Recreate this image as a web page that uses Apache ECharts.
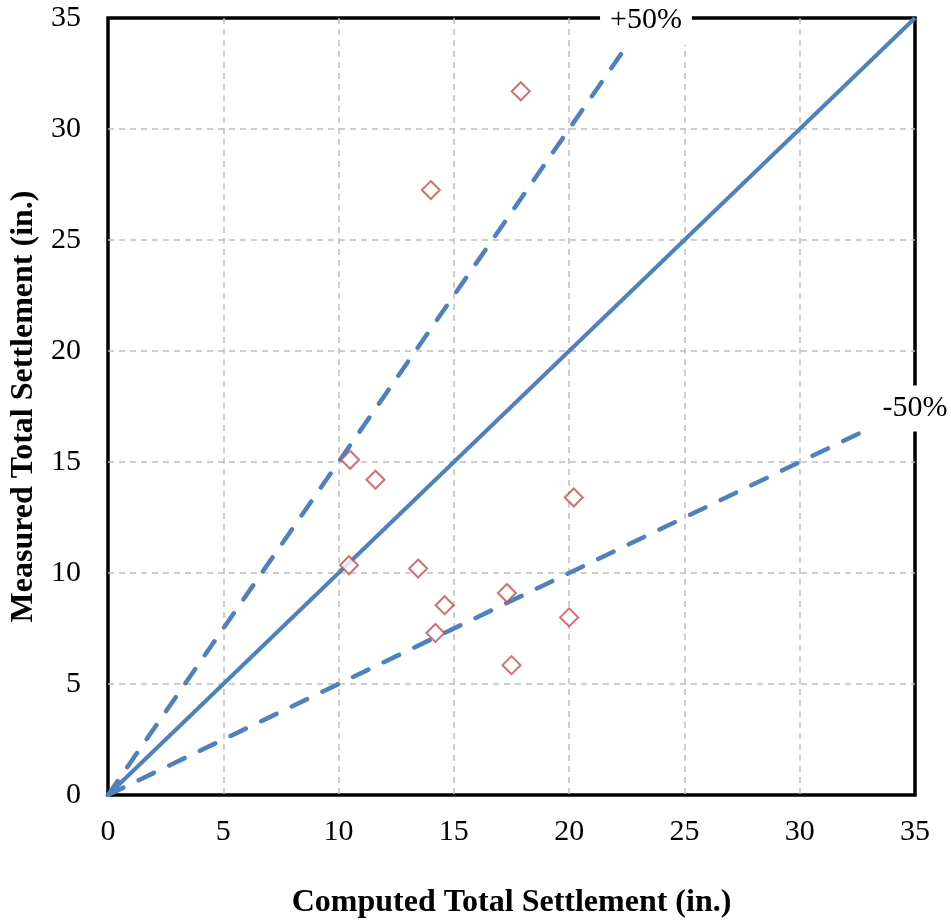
<!DOCTYPE html>
<html><head><meta charset="utf-8">
<script src="https://cdn.jsdelivr.net/npm/echarts@6/dist/echarts.min.js"></script>
<style>html,body{margin:0;padding:0;background:#fff}#c{width:951px;height:924px}</style>
</head><body><div id="c"></div>
<script>
// Data
const computed = [17.9, 14.0, 10.5, 11.6, 10.45, 13.45, 14.6, 14.2, 17.3, 17.5, 20.2, 20.0];
const measured = [31.7, 27.25, 15.1, 14.2, 10.35, 10.2, 8.55, 7.3, 9.1, 5.85, 13.4, 8.0];
const equalityLine = [[0, 0], [35, 35]];
const plus50Line = [[0, 0], [23.333, 35]];
const minus50Line = [[0, 0], [35, 17.5]];
const plus50Anchor = [23.333, 35];
const minus50Anchor = [35, 17.5];
const plus50Text = '+50%';
const minus50Text = '-50%';
const axisMin = 0, axisMax = 35, axisStep = 5;
const xTitle = 'Computed Total Settlement (in.)';
const yTitle = 'Measured Total Settlement (in.)';

const font = '"Liberation Serif","Times New Roman",serif';
const blue = '#4f81bd';
const chart = echarts.init(document.getElementById('c'));
const axisCommon = {
  type: 'value', min: axisMin, max: axisMax, interval: axisStep,
  nameLocation: 'middle',
  nameTextStyle: { fontFamily: font, fontWeight: 'bold', fontSize: 32, color: '#000' },
  axisLine: { show: false }, axisTick: { show: false },
  splitLine: { show: true, showMinLine: false, showMaxLine: false, lineStyle: { color: '#bfbfbf', type: [6, 5], width: 1.5 } }
};
chart.setOption({
  animation: false,
  grid: { left: 108, right: 36, top: 18, bottom: 129, outerBoundsMode: 'none', containLabel: false,
    show: true, borderColor: '#000', borderWidth: 3.5, backgroundColor: 'transparent' },
  xAxis: Object.assign({}, axisCommon, { name: xTitle, nameGap: 92,
    axisLabel: { fontFamily: font, fontSize: 30, color: '#000', margin: 22 } }),
  yAxis: Object.assign({}, axisCommon, { name: yTitle, nameGap: 68,
    axisLabel: { fontFamily: font, fontSize: 30, color: '#000', margin: 27 } }),
  series: [
    { type: 'line', data: equalityLine, symbol: 'none', lineStyle: { color: blue, width: 4 }, z: 3 },
    { type: 'line', data: plus50Line, symbol: 'none', lineStyle: { color: blue, width: 4.5, type: [17, 17], cap: 'round' }, z: 3 },
    { type: 'line', data: minus50Line, symbol: 'none', lineStyle: { color: blue, width: 4.5, type: [17, 17], cap: 'round' }, z: 3 },
    { type: 'scatter', data: computed.map((x, i) => [x, measured[i]]), symbol: 'diamond', symbolSize: 18,
      itemStyle: { color: '#fff', borderColor: '#c0504d', borderWidth: 2 }, z: 4 }
  ]
});
const p1 = chart.convertToPixel({ gridIndex: 0 }, plus50Anchor);
const p2 = chart.convertToPixel({ gridIndex: 0 }, minus50Anchor);
const txt = (p, s, pad) => ({
  type: 'text', x: p[0], y: p[1] + 2, z: 100,
  style: { text: s, font: '30px ' + font, fill: '#000', align: 'center', verticalAlign: 'middle',
    backgroundColor: '#fff', padding: pad }
});
chart.setOption({ graphic: [txt(p1, plus50Text, [10, 10]), txt(p2, minus50Text, [8, 14])] });
</script></body></html>
